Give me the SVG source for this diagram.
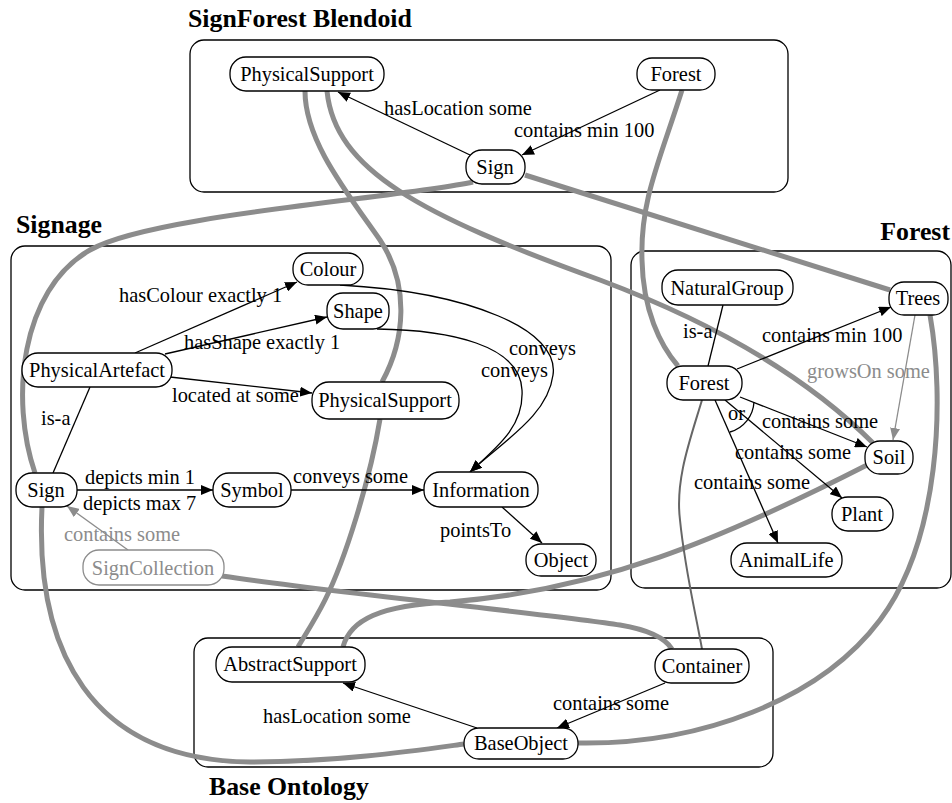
<svg xmlns="http://www.w3.org/2000/svg" width="952" height="803" viewBox="0 0 952 803">
<defs>
<style>
text{font-family:"Liberation Serif","Times New Roman",serif;font-size:20.4px;fill:#000}
.title{font-weight:bold;font-size:25.8px}
.space{fill:none;stroke:#000;stroke-width:1.3}
.node rect{fill:#fff;stroke:#000;stroke-width:1.3}
.node text{text-anchor:middle}
.gnode rect{fill:#fff;stroke:#8c8c8c;stroke-width:1.3}
.gnode text{text-anchor:middle;fill:#8c8c8c}
.e{fill:none;stroke:#000;stroke-width:1.3}
.eg{fill:none;stroke:#8c8c8c;stroke-width:1.3}
.m{fill:none;stroke:#8c8c8c;stroke-width:5}
.t{fill:none;stroke:#666;stroke-width:2}
.gl{fill:#8c8c8c}
</style>
<marker id="ah" viewBox="0 0 12 10" refX="12" refY="5" markerWidth="12" markerHeight="10" markerUnits="userSpaceOnUse" orient="auto"><path d="M0,0 L12,5 L0,10 z" fill="#000"/></marker>
<marker id="ahg" viewBox="0 0 12 10" refX="12" refY="5" markerWidth="12" markerHeight="10" markerUnits="userSpaceOnUse" orient="auto"><path d="M0,0 L12,5 L0,10 z" fill="#8c8c8c"/></marker>
</defs>

<g id="spaces">
<rect class="space" x="190" y="40" width="598" height="152" rx="14"/>
<rect class="space" x="11" y="246" width="600" height="344" rx="14"/>
<rect class="space" x="631" y="251" width="320" height="337" rx="14"/>
<rect class="space" x="194" y="638" width="579" height="129" rx="14"/>
<text class="title" x="188" y="27">SignForest Blendoid</text>
<text class="title" x="16" y="233">Signage</text>
<text class="title" x="950" y="240" text-anchor="end">Forest</text>
<text class="title" x="209" y="795">Base Ontology</text>
</g>

<g id="connectors">
<!-- mapping lines -->
<path class="m" d="M305,91 C305,140 345,190 380,240 C410,285 405,340 382,382"/>
<path class="m" d="M380,419 C370,480 345,560 325,600 C315,620 305,635 298,647"/>
<path class="m" d="M327,91 C335,170 420,215 600,280 C720,325 810,380 873,443"/>
<path class="m" d="M473,182 C400,198 150,215 90,250 C20,290 10,400 35,473"/>
<path class="m" d="M525,175 L890,290"/>
<path class="m" d="M682,90 C660,160 640,200 642,260 C643,310 660,345 678,366"/>
<path class="m" d="M42,507 C35,650 90,760 250,762 C340,762 420,750 464,744"/>
<path class="m" d="M222,576 C350,595 560,615 620,625 C650,630 665,638 672,649"/>
<path class="m" d="M343,647 C350,620 380,605 450,602 C600,590 720,540 867,465"/>
<path class="m" d="M578,743 C700,745 820,700 880,620 C940,540 945,400 930,315"/>
<path class="t" d="M702,400 C690,440 675,480 680,520 C685,570 695,610 702,649"/>

<!-- blendoid -->
<path class="e" d="M470,155 L338,92" marker-end="url(#ah)"/>
<text x="384" y="115">hasLocation some</text>
<path class="e" d="M660,90 L522,155" marker-end="url(#ah)"/>
<text x="514" y="137">contains min 100</text>

<!-- signage -->
<path class="e" d="M135,353 L297,282" marker-end="url(#ah)"/>
<text x="119" y="302">hasColour exactly 1</text>
<path class="e" d="M165,354 L327,317" marker-end="url(#ah)"/>
<text x="184" y="349">hasShape exactly 1</text>
<path class="e" d="M170,377 L312,393" marker-end="url(#ah)"/>
<text x="172" y="402">located at some</text>
<path class="e" d="M90,387 L53,473"/>
<text x="41" y="425">is-a</text>
<path class="e" d="M77,490 L213,490" marker-end="url(#ah)"/>
<text x="85" y="484">depicts min 1</text>
<text x="83" y="510">depicts max 7</text>
<path class="e" d="M291,490 L424,490" marker-end="url(#ah)"/>
<text x="293" y="483">conveys some</text>
<path class="e" d="M502,507 L542,543" marker-end="url(#ah)"/>
<text x="440" y="537">pointsTo</text>
<path class="eg" d="M128,550 L67,506" marker-end="url(#ahg)"/>
<text x="64" y="541" class="gl">contains some</text>
<path class="e" d="M340,285 C470,292 560,330 553,375 C548,415 505,440 470,472" marker-end="url(#ah)"/>
<text x="509" y="355">conveys</text>
<path class="e" d="M377,329 C450,330 520,345 522,390 C524,425 500,445 470,472" marker-end="url(#ah)"/>
<text x="481" y="377">conveys</text>

<!-- forest -->
<path class="e" d="M723,305 L708,366"/>
<text x="683" y="338">is-a</text>
<path class="e" d="M737,369 L891,307" marker-end="url(#ah)"/>
<text x="762" y="342">contains min 100</text>
<path class="eg" d="M915,315 L893,440" marker-end="url(#ahg)"/>
<text x="807" y="378" class="gl">growsOn some</text>
<path class="e" d="M740,397 L867,447" marker-end="url(#ah)"/>
<text x="762" y="428">contains some</text>
<path class="e" d="M725,400 L842,498" marker-end="url(#ah)"/>
<text x="735" y="459">contains some</text>
<path class="e" d="M715,400 L778,543" marker-end="url(#ah)"/>
<text x="694" y="489">contains some</text>
<path class="e" d="M754,402 A33,33 0 0 1 730,432"/>
<text x="728" y="420">or</text>

<!-- base -->
<path class="e" d="M477,728 L343,683" marker-end="url(#ah)"/>
<text x="263" y="723">hasLocation some</text>
<path class="e" d="M665,683 L557,728" marker-end="url(#ah)"/>
<text x="553" y="710">contains some</text>
</g>

<g id="blend-PhysicalSupport" class="node"><rect x="230" y="57" width="154" height="34" rx="16"/><text x="307" y="81">PhysicalSupport</text></g>
<g id="blend-Forest" class="node"><rect x="637" y="58" width="78" height="32" rx="15"/><text x="676" y="81">Forest</text></g>
<g id="blend-Sign" class="node"><rect x="466" y="150" width="59" height="34" rx="16"/><text x="495" y="174">Sign</text></g>

<g id="sig-Colour" class="node"><rect x="293" y="253" width="70" height="32" rx="15"/><text x="328" y="276">Colour</text></g>
<g id="sig-Shape" class="node"><rect x="327" y="293" width="62" height="36" rx="16"/><text x="358" y="318">Shape</text></g>
<g id="sig-PhysicalArtefact" class="node"><rect x="22" y="353" width="150" height="34" rx="16"/><text x="97" y="377">PhysicalArtefact</text></g>
<g id="sig-PhysicalSupport" class="node"><rect x="312" y="382" width="147" height="37" rx="17"/><text x="385" y="407">PhysicalSupport</text></g>
<g id="sig-Sign" class="node"><rect x="16" y="473" width="61" height="34" rx="16"/><text x="46" y="497">Sign</text></g>
<g id="sig-Symbol" class="node"><rect x="213" y="473" width="78" height="34" rx="16"/><text x="252" y="497">Symbol</text></g>
<g id="sig-Information" class="node"><rect x="424" y="472" width="114" height="35" rx="16"/><text x="481" y="497">Information</text></g>
<g id="sig-Object" class="node"><rect x="526" y="544" width="70" height="32" rx="15"/><text x="561" y="567">Object</text></g>
<g id="sig-SignCollection" class="gnode"><rect x="83" y="550" width="141" height="35" rx="16"/><text x="153" y="575">SignCollection</text></g>

<g id="for-NaturalGroup" class="node"><rect x="662" y="270" width="131" height="35" rx="16"/><text x="727" y="295">NaturalGroup</text></g>
<g id="for-Trees" class="node"><rect x="889" y="282" width="59" height="33" rx="15"/><text x="918" y="305">Trees</text></g>
<g id="for-Forest" class="node"><rect x="667" y="366" width="75" height="34" rx="16"/><text x="704" y="390">Forest</text></g>
<g id="for-Soil" class="node"><rect x="865" y="441" width="48" height="33" rx="15"/><text x="889" y="464">Soil</text></g>
<g id="for-Plant" class="node"><rect x="832" y="497" width="61" height="34" rx="16"/><text x="862" y="521">Plant</text></g>
<g id="for-AnimalLife" class="node"><rect x="731" y="543" width="111" height="34" rx="16"/><text x="786" y="567">AnimalLife</text></g>

<g id="base-AbstractSupport" class="node"><rect x="216" y="647" width="149" height="35" rx="16"/><text x="290" y="671">AbstractSupport</text></g>
<g id="base-BaseObject" class="node"><rect x="464" y="728" width="114" height="31" rx="15"/><text x="521" y="750">BaseObject</text></g>
<g id="base-Container" class="node"><rect x="655" y="649" width="94" height="34" rx="16"/><text x="702" y="673">Container</text></g>
</svg>
